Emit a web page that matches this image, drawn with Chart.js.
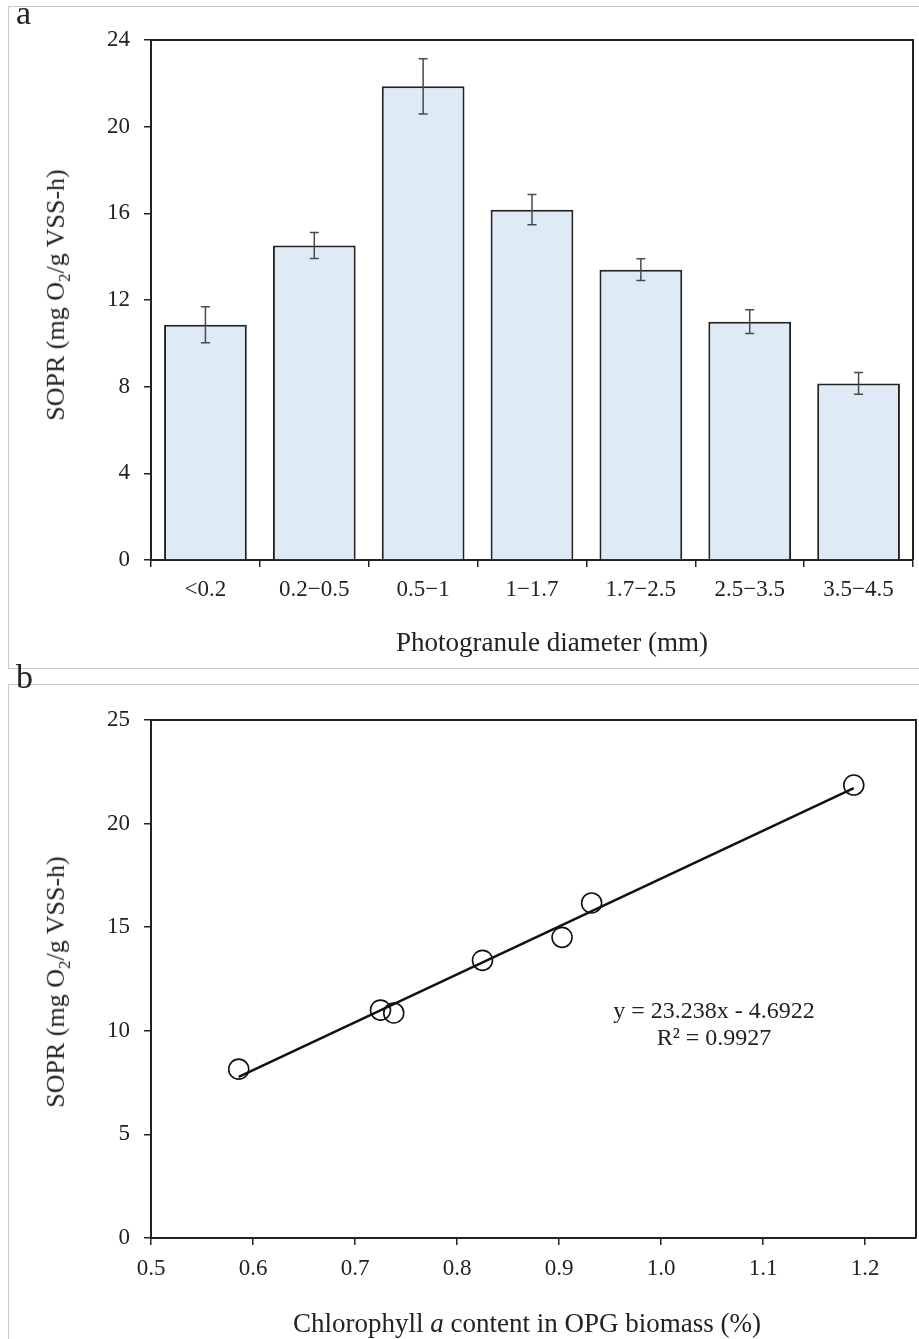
<!DOCTYPE html>
<html lang="en">
<head>
  <meta charset="UTF-8">
  <title>SOPR by photogranule size and chlorophyll a content</title>
  <script src="https://cdn.jsdelivr.net/npm/chart.js"></script>
  <style>
    body { margin: 0; background: #fff; font-family: "Liberation Serif", "Times New Roman", serif; color: #222; }
    #page { position: relative; width: 919px; height: 1339px; overflow: hidden; }
    .panel { position: absolute; border: 1px solid #c8c8c8; }
    canvas { position: absolute; left: 0; }
    .txt { position: absolute; line-height: 1; white-space: nowrap; font-weight: normal; }
    .ytitle { font-size: 26px; transform: translate(-50%, -50%) rotate(-90deg); }
    .xtitle { font-size: 27px; transform: translateX(-50%); }
    .letter { font-size: 34px; }
    .eq { font-size: 24px; transform: translateX(-50%); }
  </style>
</head>
<body>
<div id="page">
  <div class="panel" style="left:8px; top:6px; width:930px; height:661px;"></div>
  <div class="panel" style="left:8px; top:684px; width:930px; height:700px;"></div>

  <canvas id="barChart" width="919" height="668" style="top:0;"></canvas>
  <canvas id="fitChart" width="919" height="655" style="top:684px;"></canvas>

  <div class="txt letter" style="left:16px; top:-4px;">a</div>
  <div class="txt letter" style="left:16px; top:660px;">b</div>

  <div class="txt ytitle" style="left:58px; top:295px;">SOPR (mg O<sub style="font-size:17px">2</sub>/g VSS-h)</div>
  <div class="txt xtitle" style="left:552px; top:629px;">Photogranule diameter (mm)</div>

  <div class="txt ytitle" style="left:58px; top:982px;">SOPR (mg O<sub style="font-size:17px">2</sub>/g VSS-h)</div>
  <div class="txt xtitle" style="left:527px; top:1310px;">Chlorophyll <i>a</i> content in OPG biomass (%)</div>

  <div class="txt eq" style="left:714px; top:998px;">y = 23.238x - 4.6922</div>
  <div class="txt eq" style="left:714px; top:1025px;">R² = 0.9927</div>
</div>

<script>
  // size classes and their specific oxygen production rate
  const sizeClasses = ['<0.2', '0.2\u22120.5', '0.5\u22121', '1\u22121.7', '1.7\u22122.5', '2.5\u22123.5', '3.5\u22124.5'];
  const sopr = [10.86, 14.51, 21.86, 16.17, 13.40, 11.00, 8.15];
  const soprErr = [0.83, 0.60, 1.28, 0.70, 0.50, 0.55, 0.50];
  // chlorophyll a content of each size class (same order)
  const chlA = [0.738, 0.903, 1.189, 0.932, 0.825, 0.725, 0.586];
  const chlTicks = [0.5, 0.6, 0.7, 0.8, 0.9, 1.0, 1.1, 1.2];

  const FONT = 'Liberation Serif';
  const INK = '#222';

  // top + right edge of the plot box
  const frame = {
    id: 'frame',
    afterDatasetsDraw(chart) {
      const { ctx, chartArea: a } = chart;
      ctx.save();
      ctx.strokeStyle = INK;
      ctx.lineWidth = 2;
      ctx.beginPath();
      ctx.moveTo(a.left, a.top);
      ctx.lineTo(a.right, a.top);
      ctx.lineTo(a.right, a.bottom);
      ctx.stroke();
      ctx.restore();
    }
  };

  const errorBars = {
    id: 'errorBars',
    afterDatasetsDraw(chart, args, opts) {
      const meta = chart.getDatasetMeta(0);
      const y = chart.scales.y;
      const ctx = chart.ctx;
      const vals = chart.data.datasets[0].data;
      ctx.save();
      ctx.strokeStyle = opts.color;
      ctx.lineWidth = opts.width;
      meta.data.forEach((bar, i) => {
        const top = y.getPixelForValue(vals[i] + opts.errors[i]);
        const bot = y.getPixelForValue(vals[i] - opts.errors[i]);
        ctx.beginPath();
        ctx.moveTo(bar.x, top); ctx.lineTo(bar.x, bot);
        ctx.moveTo(bar.x - opts.cap, top); ctx.lineTo(bar.x + opts.cap, top);
        ctx.moveTo(bar.x - opts.cap, bot); ctx.lineTo(bar.x + opts.cap, bot);
        ctx.stroke();
      });
      ctx.restore();
    }
  };

  const tickFont = { family: FONT, size: 23 };

  new Chart(document.getElementById('barChart'), {
    type: 'bar',
    data: {
      labels: sizeClasses,
      datasets: [{
        data: sopr,
        backgroundColor: '#deebf7',
        borderColor: INK,
        borderWidth: 2,
        categoryPercentage: 1,
        barPercentage: 0.76
      }]
    },
    options: {
      responsive: false,
      animation: false,
      layout: { padding: { top: 40, right: 6, left: 0, bottom: 0 } },
      plugins: {
        legend: { display: false },
        tooltip: { enabled: false },
        errorBars: { errors: soprErr, color: '#4a4a4a', width: 1.5, cap: 4.5 }
      },
      scales: {
        x: {
          grid: { offset: true, drawOnChartArea: false, tickLength: 7, color: INK, lineWidth: 1.5 },
          border: { color: INK, width: 2 },
          ticks: { color: INK, font: tickFont, padding: 9, maxRotation: 0 },
          afterFit: s => { s.height = 108; }
        },
        y: {
          min: 0, max: 24,
          grid: { drawOnChartArea: false, tickLength: 7, color: INK, lineWidth: 1.5 },
          border: { color: INK, width: 2 },
          ticks: { stepSize: 4, color: INK, font: tickFont, padding: 14 },
          afterFit: s => { s.width = 151; }
        }
      }
    },
    plugins: [frame, errorBars]
  });

  // least-squares line through the measured points
  const n = chlA.length;
  const mx = chlA.reduce((a, b) => a + b, 0) / n;
  const my = sopr.reduce((a, b) => a + b, 0) / n;
  let sxy = 0, sxx = 0;
  chlA.forEach((x, i) => { sxy += (x - mx) * (sopr[i] - my); sxx += (x - mx) * (x - mx); });
  const slope = sxy / sxx;
  const icpt = my - slope * mx;
  const xLo = Math.min(...chlA), xHi = Math.max(...chlA);

  new Chart(document.getElementById('fitChart'), {
    type: 'scatter',
    data: {
      datasets: [
        {
          type: 'line',
          data: [{ x: xLo, y: slope * xLo + icpt }, { x: xHi, y: slope * xHi + icpt }],
          borderColor: '#111',
          borderWidth: 2.5,
          pointRadius: 0,
          fill: false
        },
        {
          data: chlA.map((x, i) => ({ x: x, y: sopr[i] })),
          pointRadius: 10,
          pointBorderWidth: 1.6,
          pointBorderColor: '#111',
          pointBackgroundColor: 'rgba(255,255,255,0)'
        }
      ]
    },
    options: {
      responsive: false,
      animation: false,
      layout: { autoPadding: false, padding: { top: 36, right: 3, left: 0, bottom: 0 } },
      plugins: { legend: { display: false }, tooltip: { enabled: false } },
      scales: {
        x: {
          type: 'linear',
          min: 0.5, max: 1.25,
          grid: { drawOnChartArea: false, tickLength: 7, color: INK, lineWidth: 1.5 },
          border: { color: INK, width: 2 },
          ticks: { color: INK, font: tickFont, padding: 10, maxRotation: 0,
                   callback: v => v.toFixed(1) },
          afterBuildTicks: s => { s.ticks = chlTicks.map(v => ({ value: v })); },
          afterFit: s => { s.height = 101; s.paddingLeft = 0; s.paddingRight = 0; }
        },
        y: {
          min: 0, max: 25,
          grid: { drawOnChartArea: false, tickLength: 7, color: INK, lineWidth: 1.5 },
          border: { color: INK, width: 2 },
          ticks: { stepSize: 5, color: INK, font: tickFont, padding: 14 },
          afterFit: s => { s.width = 151; }
        }
      }
    },
    plugins: [frame]
  });
</script>
</body>
</html>
